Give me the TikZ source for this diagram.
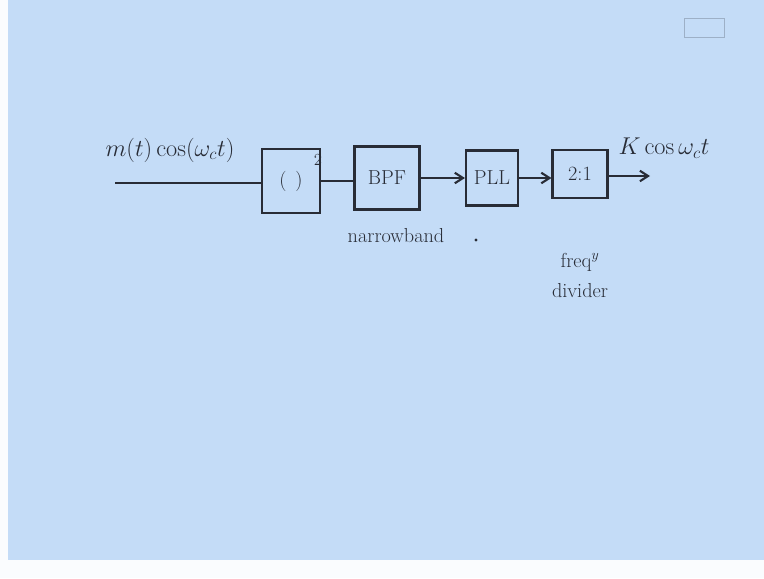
\documentclass[tikz,border=0pt]{standalone}
\usepackage{amsmath}
\usetikzlibrary{arrows.meta}
\definecolor{slide}{RGB}{196,220,247}
\definecolor{ink}{RGB}{40,44,54}
\begin{document}
\begin{tikzpicture}[x=0.03cm, y=-0.03cm, >={Straight Barb[length=7pt,width=9pt]},
    blk/.style={draw=ink, line width=1.8pt, inner sep=0pt, font=\LARGE, text=ink},
    lbl/.style={text=ink, font=\LARGE},
    wire/.style={ink, line width=1.8pt}]
        % ===== slide =====
        \fill[white!92!slide] (0,0) rectangle (764,578);
        \fill[slide] (8,0) rectangle (764,560);
        \draw[ink!25!slide, line width=0.8pt] (684,18) rectangle (724,37);

        % ===== blocks =====
        \node[blk, minimum width=58*0.03cm, minimum height=64*0.03cm] (sq) at (291,181) {$(\;\,)$};
        \node[lbl, font=\Large] (sqexp) at (318,160) {$2$};
        \node[blk, minimum width=65*0.03cm, minimum height=63*0.03cm] (bpf) at (387,178) {BPF};
        \node[blk, minimum width=52*0.03cm, minimum height=55*0.03cm] (pll) at (492,178) {PLL};
        \node[blk, minimum width=55*0.03cm, minimum height=48*0.03cm] (div) at (580,174) {2:1};

        \coordinate (in) at (115,183);
        \coordinate (out) at (650,176);

        % ===== connectors =====
        \draw[wire] (in) -- (sq.west |- in);
        \draw[wire] (sq.east) -- (sq.east -| bpf.west);
        \draw[wire, ->] (bpf.east) -- (bpf.east -| pll.west);
        \draw[wire, ->] (pll.east) -- (pll.east -| div.west);
        \draw[wire, ->] (div.east |- out) -- (out);

        % ===== labels =====
        \node[lbl, font=\huge] (inlbl) at (170,150) {$m(t)\cos(\omega_c t)$};
        \node[lbl, font=\huge] (outlbl) at (664,148) {$K\cos\omega_c t$};
        \node[lbl, font=\LARGE] (nb) at (396,236) {narrowband};
        \node[lbl, font=\LARGE] (fq) at (580,262) {freq$^{y}$};
        \node[lbl, font=\LARGE] (dv) at (580,291) {divider};
        \fill[ink] (476,240) circle (1.6);
    \end{tikzpicture}
\end{document}
